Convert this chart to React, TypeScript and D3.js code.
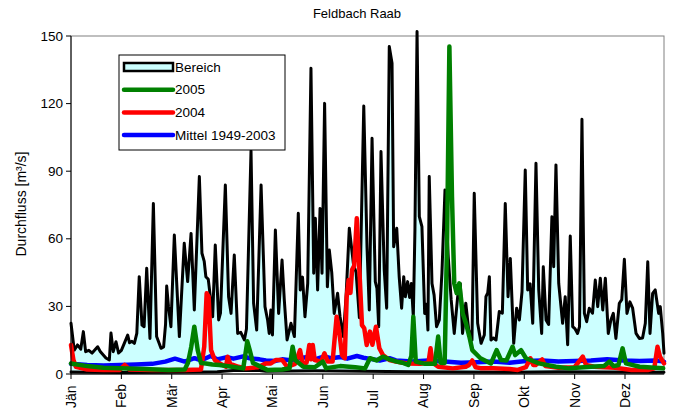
import { useEffect, useRef } from 'react';
import * as d3 from 'd3';

// day of year (0..365) and discharge in m³/s
const rangeMax: [number, number][] = [
  [0, 22.5], [2, 10.6], [4, 12.9], [6, 11], [7.6, 18.8], [9, 9.9], [11, 10.5], [13, 9.3], [16.4, 12.1], [18, 10],
  [21.5, 7.1], [23.6, 6.2], [24.6, 18.2], [26, 9.9], [27.7, 14.3], [29.3, 9.3], [31, 10.5], [32.8, 13.6], [34.9, 17.3],
  [36, 13.9], [37.5, 14.5], [39, 13.6], [40.5, 18], [42, 43.2], [43.7, 21.7], [45, 21], [46.6, 46.9], [48.6, 15.8],
  [50.7, 75.7], [52.7, 16.6], [55.4, 11.4], [57, 12], [58.2, 22], [58.9, 39], [60, 30], [61.5, 21], [63.6, 61.7],
  [66.7, 16.6], [69.7, 58], [71.8, 41], [73.9, 62.4], [75.9, 28.4], [79, 87.6], [80.6, 53.6], [82, 50], [83, 43.2],
  [84.5, 42], [87.2, 25.4], [88.8, 57.2], [90.9, 24], [92, 27], [95, 83.9], [97, 34.3], [98.5, 26.9], [100.5, 52.8],
  [102.6, 18], [104.5, 18.5], [106.7, 15.1], [108, 20], [110.8, 99.1], [112.4, 31.4], [114.3, 19.5], [117, 83.9],
  [119.4, 29.9], [121, 24], [122, 18], [123, 28.4], [124, 17.3], [125.8, 63.9], [127.8, 26.9], [129.9, 50.6],
  [131.3, 32.8], [133, 15.1], [135.4, 22.5], [137.5, 16.6], [139.9, 71.3], [141.1, 37.3], [142.5, 43], [144, 25.4],
  [145.7, 40.2], [147.7, 135.7], [149.4, 44.7], [150.4, 69.1], [151.8, 37.3], [153.3, 73.5], [154.5, 44.7],
  [156.1, 120.1], [157.8, 38.7], [159, 55], [160.5, 45], [162, 26.9], [164.1, 35.8], [165.6, 25.4], [167.6, 16.6],
  [169.3, 34.3], [171.3, 64.7], [173.8, 49.1], [175.5, 45], [177.5, 25], [180.2, 118.9], [182.2, 56.5], [183.6, 28.4],
  [185.3, 104.6], [187.3, 41], [188.3, 38], [189.4, 21], [190.8, 98.7], [192.8, 46.2], [194.3, 29.2], [195.9, 145.3],
  [197.6, 137.9], [198.6, 56.5], [200.5, 64.7], [202, 43.2], [203.5, 29.2], [204.8, 43.2], [205.8, 34.3], [207.2, 41],
  [208.4, 34], [209.5, 40.2], [210.7, 25.4], [211.7, 63.9], [213, 152], [214.4, 69.8], [216, 65.4], [217.7, 26.9],
  [218.8, 31], [219.7, 19.5], [220.5, 87.6], [222.2, 40.2], [223.5, 35], [225, 21], [226.7, 24], [228.3, 44.7],
  [230.2, 81.7], [232.2, 52], [234, 33], [235.9, 18], [238, 34.3], [239.6, 40.2], [241, 18], [243, 31.4], [244.8, 19.5],
  [246.8, 15.1], [248.2, 80.2], [250.3, 22.5], [252.4, 13.6], [254.4, 17.3], [255.4, 34.3], [256.5, 36], [257.5, 43.2],
  [258.5, 15.1], [260, 16], [261.6, 15.1], [263.6, 27.7], [265.5, 27], [267.3, 75.7], [269, 34.3], [270.4, 51.3],
  [272.5, 13.6], [274.3, 29.2], [276, 24], [277.6, 36.5], [279.6, 90.5], [281.1, 37.3], [282.6, 40], [284.2, 22.5],
  [286.2, 93.5], [287.9, 37.3], [289.7, 18], [290.7, 47.6], [292.4, 24], [294, 22], [296, 69.8], [297.1, 47.6],
  [298.5, 92.8], [300.2, 40.2], [302.6, 22.5], [304.2, 34.3], [305.7, 13], [307.3, 61.2], [308.8, 21], [310.3, 20],
  [311.8, 18], [313, 21], [314.5, 113], [316, 26.9], [317.4, 23.2], [319, 29.2], [321, 27], [322.7, 41.7], [324.2, 29.9],
  [325.8, 42.5], [327.3, 28.4], [328.9, 42.5], [330.7, 18], [332.3, 24], [333.8, 26.9], [335.4, 15.8], [337.5, 31.4],
  [339, 33], [340.6, 50.9], [342.2, 26.9], [344, 32], [345.7, 29.2], [347.8, 18], [349.8, 15.8], [351.8, 16],
  [353.5, 22.5], [355, 49.8], [356.4, 18], [358, 35.8], [359.6, 37.3], [361.7, 26.9], [362.7, 29.9], [364.2, 18], [365, 9.2],
];

const rangeMin: [number, number][] = [
  [0, 0.9], [30, 0.7], [60, 0.8], [90, 1], [100, 1.5], [116, 1.6], [120, 1.2], [150, 1.4], [180, 1.2], [210, 1],
  [240, 0.9], [270, 0.8], [300, 1], [330, 0.9], [365, 0.8],
];

const mean1949: [number, number][] = [
  [0, 4.5], [10, 4], [20, 3.8], [30, 4], [40, 4.2], [50, 4.5], [58, 5.5], [64, 6.8], [70, 5.5], [76, 7], [80, 6],
  [86, 8], [90, 6.5], [96, 7.5], [100, 6.8], [106, 7.8], [110, 7], [116, 6.5], [120, 6], [126, 5.8], [130, 6.5],
  [136, 6], [140, 7], [146, 7.5], [150, 6.5], [156, 7.8], [160, 7], [166, 7.5], [170, 6.8], [176, 8], [180, 7.2],
  [186, 6.5], [190, 6], [196, 7], [200, 6], [210, 5.5], [220, 6], [230, 5.5], [240, 5], [250, 5.2], [260, 5.5],
  [270, 5], [280, 5.8], [290, 6], [300, 5.5], [310, 5.8], [320, 6], [330, 6.5], [340, 6], [350, 5.8], [360, 6], [365, 5.5],
];

const year2004: [number, number][] = [
  [0, 12.9], [1.5, 6.2], [3, 3.2], [10, 2], [20, 1.8], [30, 1.8], [33, 4], [36, 2], [50, 1.8], [70, 1.8], [80, 2],
  [82, 12.1], [83.5, 35.8], [84.7, 34.3], [86.2, 10.6], [88.5, 6.2], [92, 4.5], [95.4, 3.2], [96.4, 7.7], [98, 4.5],
  [103, 3.2], [107.7, 2.5], [115, 3], [120, 4.7], [123, 4.7], [126, 6.2], [130, 6.2], [133, 3.2], [138, 4.5],
  [141, 10.6], [142.5, 4.7], [145, 5], [146.7, 12.9], [147.8, 6.5], [148.8, 12.9], [150, 6.2], [154, 5.5], [156, 9.2],
  [158, 5.5], [161, 5.5], [163.5, 25.4], [165, 19.5], [166.8, 8.4], [168.5, 7], [169.7, 34.3], [170.9, 41.7], [172, 36],
  [173, 46.2], [174.3, 48], [175.9, 69.1], [177.5, 46.2], [179.1, 21.7], [180.5, 20.3], [182, 12.9], [184, 18.8],
  [185.5, 13], [187.7, 21], [189.8, 11.4], [192, 8.4], [196, 6.2], [200, 5.5], [207, 4.7], [215, 4.5], [220, 5],
  [221.3, 11.4], [222.5, 5], [226, 3.2], [235, 2.5], [243, 3.2], [245, 4], [247, 6], [249, 3], [252, 2.6], [260, 2.6],
  [270, 2.2], [275, 1.8], [280, 3], [282.8, 7], [284.5, 4], [286, 4], [290, 6.5], [292, 3.5], [300, 2.8], [310, 3],
  [315, 7.7], [317, 4], [322, 3.2], [335, 2.8], [345, 1.8], [355, 1.8], [359, 2.5], [361, 12.1], [362.5, 7.7], [365, 4.7],
];

const year2005: [number, number][] = [
  [0, 4.7], [10, 3.5], [20, 2.8], [30, 2.5], [45, 2.2], [60, 1.8], [70, 2], [72, 5], [74, 12], [75.9, 21], [78, 10.6],
  [80, 4.9], [83, 4.7], [87, 4.2], [91.3, 4], [99, 3.2], [106, 2.5], [107.2, 8], [108.5, 14.5], [110, 10.6], [112, 4.9],
  [116, 3.5], [121, 1.8], [130, 2], [134.5, 2.5], [136.4, 12.1], [138, 6.2], [143, 3.2], [150, 3], [153, 4.5],
  [155, 5.5], [157, 2.6], [165.6, 3.5], [175, 3], [181, 2.5], [184, 7], [188, 6], [192, 7.7], [196, 6.5], [200.5, 5.5],
  [204, 5], [207.6, 4], [209.5, 8], [210.7, 25.4], [212.2, 5.5], [218, 4.5], [224, 4.5], [226, 16.6], [227.5, 5],
  [230, 4.9], [231.5, 60], [232.9, 145.3], [234.5, 78.7], [235.9, 40.2], [237.4, 35.8], [239, 40.2], [241.1, 26.9],
  [243.1, 22.5], [245.2, 16.6], [247, 10.6], [252, 7], [258.5, 4.7], [262, 10.6], [264.7, 6.2], [268, 6], [271.8, 12.1],
  [273.4, 8.4], [277, 10.6], [280, 7], [288, 4.7], [298.5, 3.2], [306.7, 2.5], [320, 3.2], [328, 3.5], [331.3, 5.5],
  [334, 3.5], [337, 4], [339.5, 11.4], [341.6, 4.7], [350, 3.2], [364.5, 2.5],
];

const monthLabels = ['Jän', 'Feb', 'Mär', 'Apr', 'Mai', 'Jun', 'Jul', 'Aug', 'Sep', 'Okt', 'Nov', 'Dez'];
const yTicks = [0, 30, 60, 90, 120, 150];

const legendItems = [
  { label: 'Bereich', color: '#000000', box: true },
  { label: '2005', color: '#008000', box: false },
  { label: '2004', color: '#ff0000', box: false },
  { label: 'Mittel 1949-2003', color: '#0000ff', box: false },
];

const FONT = '"Liberation Sans", Arial, sans-serif';

export default function App() {
  const svgRef = useRef<SVGSVGElement>(null);

  useEffect(() => {
    if (!svgRef.current) return;
    const svg = d3.select(svgRef.current);
    svg.selectAll('*').remove();

    const left = 71, right = 664, top = 36, bottom = 374;

    const x = d3.scaleLinear().domain([0, 365]).range([left, right]);
    const y = d3.scaleLinear().domain([0, 150]).range([bottom, top]);

    const line = d3.line<[number, number]>()
      .x(d => x(d[0]))
      .y(d => y(d[1]));

    // title
    svg.append('text')
      .attr('x', 357).attr('y', 13)
      .attr('text-anchor', 'middle')
      .attr('dominant-baseline', 'central')
      .style('font-family', FONT).style('font-size', '13px')
      .text('Feldbach Raab');

    // range fill between min and max
    const poly: [number, number][] = [...rangeMax, ...[...rangeMin].reverse()];
    svg.append('path')
      .attr('d', line(poly) + 'Z')
      .attr('fill', '#ccffff');

    // plot border
    svg.append('rect')
      .attr('x', left).attr('y', top)
      .attr('width', right - left).attr('height', bottom - top)
      .attr('fill', 'none').attr('stroke', '#808080').attr('stroke-width', 1);

    const drawSeries = (data: [number, number][], color: string, w: number) => {
      svg.append('path')
        .datum(data)
        .attr('d', line)
        .attr('fill', 'none')
        .attr('stroke', color)
        .attr('stroke-width', w)
        .attr('stroke-linejoin', 'round')
        .attr('stroke-linecap', 'round');
    };

    drawSeries(rangeMax, '#000000', 3);
    drawSeries(rangeMin, '#000000', 3);
    drawSeries(mean1949, '#0000ff', 4.5);
    drawSeries(year2004, '#ff0000', 4.5);
    drawSeries(year2005, '#008000', 4.5);

    // axes
    svg.append('line')
      .attr('x1', left).attr('x2', left).attr('y1', top).attr('y2', bottom)
      .attr('stroke', '#000');
    svg.append('line')
      .attr('x1', left).attr('x2', right).attr('y1', bottom).attr('y2', bottom)
      .attr('stroke', '#000');

    yTicks.forEach(t => {
      svg.append('line')
        .attr('x1', left - 5).attr('x2', left).attr('y1', y(t)).attr('y2', y(t))
        .attr('stroke', '#000');
      svg.append('text')
        .attr('x', left - 8).attr('y', y(t))
        .attr('text-anchor', 'end')
        .attr('dominant-baseline', 'central')
        .style('font-family', FONT).style('font-size', '13.5px')
        .text(t);
    });

    monthLabels.forEach((m, i) => {
      const tx = x(i * 31);
      svg.append('line')
        .attr('x1', tx).attr('x2', tx).attr('y1', bottom).attr('y2', bottom + 5)
        .attr('stroke', '#000');
      svg.append('text')
        .attr('transform', `translate(${tx},408) rotate(-90)`)
        .attr('text-anchor', 'start')
        .attr('dy', '0.35em')
        .style('font-family', FONT).style('font-size', '14px')
        .text(m);
    });

    svg.append('text')
      .attr('transform', 'translate(21,204) rotate(-90)')
      .attr('text-anchor', 'middle')
      .attr('dominant-baseline', 'central')
      .style('font-family', FONT).style('font-size', '14px')
      .text('Durchfluss [m³/s]');

    // legend
    const lg = svg.append('g');
    lg.append('rect')
      .attr('x', 119).attr('y', 55).attr('width', 166).attr('height', 95)
      .attr('fill', '#fff').attr('stroke', '#000');
    legendItems.forEach((it, i) => {
      const cy = 67 + i * 22.7;
      if (it.box) {
        lg.append('rect')
          .attr('x', 124).attr('y', cy - 4).attr('width', 49).attr('height', 8)
          .attr('fill', '#ccffff').attr('stroke', '#000').attr('stroke-width', 2.5);
      } else {
        lg.append('line')
          .attr('x1', 124).attr('x2', 173).attr('y1', cy).attr('y2', cy)
          .attr('stroke', it.color).attr('stroke-width', 4.5).attr('stroke-linecap', 'round');
      }
      lg.append('text')
        .attr('x', 175).attr('y', cy)
        .attr('dominant-baseline', 'central')
        .style('font-family', FONT).style('font-size', '13.5px')
        .text(it.label);
    });
  }, []);

  return (
    <svg
      ref={svgRef}
      width={676}
      height={412}
      style={{ position: 'absolute', left: 0, top: 0, background: '#fff' }}
    />
  );
}
